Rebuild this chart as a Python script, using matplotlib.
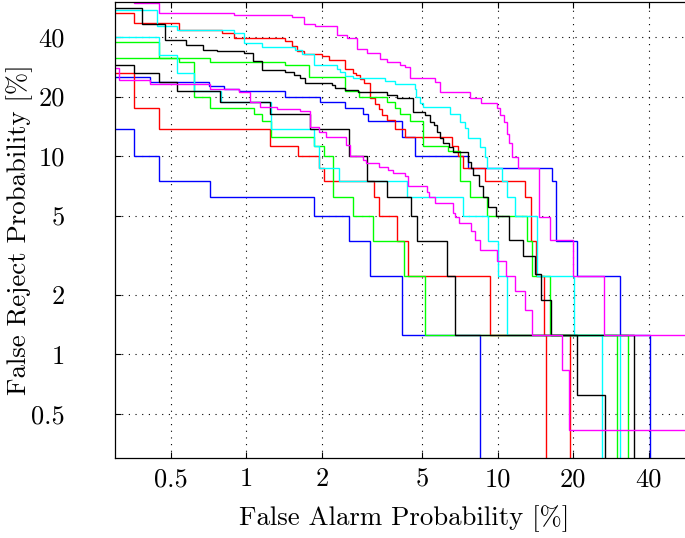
import numpy as np
import matplotlib
matplotlib.use("Agg")
import matplotlib.pyplot as plt
from matplotlib.ticker import FixedLocator, FixedFormatter, NullLocator

plt.rcParams['font.family'] = 'serif'
plt.rcParams['font.serif'] = ['cmr10']
plt.rcParams['mathtext.fontset'] = 'cm'
plt.rcParams['axes.formatter.use_mathtext'] = True

# ---- axis ticks ----
tick_values = [0.5, 1, 2, 5, 10, 20, 40]
tick_labels = ['0.5', '1', '2', '5', '10', '20', '40']

# ---- DET curves: (false alarm % where the step occurs, false reject % after the step) ----
blue_a_fa = [0.2, 0.356, 0.448, 0.715, 1.864, 2.574, 3.111, 4.18, 8.49]
blue_a_fr = [13.75, 10.0, 7.5, 6.25, 5.0, 3.75, 2.5, 1.25, 0]

blue_b_fa = [0.2, 0.415, 0.708, 0.812, 0.932, 1.42, 1.97, 2.478, 2.925, 3.04, 4.158, 4.694,
             7.633, 16.42, 17.1, 20.8, 30.65, 40.3]
blue_b_fr = [25.0, 23.75, 22.5, 21.875, 21.25, 20.0, 18.75, 17.5, 16.25, 15.0, 12.5, 10.0,
             8.75, 7.5, 3.75, 2.5, 1.25, 0]

red_a_fa = [0.2, 0.356, 0.448, 1.246, 1.60, 1.95, 2.045, 3.21, 3.36, 3.99, 4.41, 9.35, 19.47]
red_a_fr = [26.25, 17.5, 13.75, 11.25, 10.0, 8.75, 7.5, 6.25, 5.0, 3.75, 2.5, 1.25, 0]

red_b_fa = [0.2, 0.356, 0.538, 0.800, 0.890, 1.429, 1.519, 1.591, 1.690, 2.0, 2.124, 2.478,
            2.669, 2.734, 2.839, 2.943, 3.111, 3.257, 3.361, 3.462, 3.62, 3.905, 4.3, 6.577,
            6.971, 7.29, 8.95, 12.9, 13.6, 14.27, 15.32, 15.57]
red_b_fr = [52.5, 46.9, 43.1, 41.9, 39.4, 38.1, 36.1, 34.1, 32.8, 31.9, 30.6, 27.5,
            26.25, 25.6, 24.4, 23.4, 19.7, 18.4, 17.4, 16.1, 15.2, 13.75, 12.5, 11.25,
            10.0, 8.75, 7.5, 6.25, 3.75, 2.5, 1.25, 0]

black_a_fa = [0.2, 0.385, 0.476, 0.577, 0.673, 0.764, 0.976, 1.063, 1.155, 1.429,
              1.542, 1.640, 1.716, 2.20, 2.259, 2.478, 2.795, 3.621, 3.968, 4.60,
              5.15, 5.40, 5.562, 5.750, 5.917, 6.093, 6.435, 6.675, 7.633, 7.867,
              8.0, 8.437, 8.757, 9.191, 9.9, 11.07, 12.6, 14.14, 14.83, 16.32,
              20.79, 26.85]
black_a_fr = [55.9, 46.7, 38.6, 36.5, 34.4, 33.8, 33.0, 30.1, 27.3, 26.5,
              25.8, 24.9, 23.4, 22.8, 22.2, 21.5, 21.05, 20.3, 19.7, 16.7,
              16.1, 14.9, 14.3, 13.3, 12.3, 11.6, 11.1, 10.5, 9.37, 8.69,
              8.04, 7.08, 6.21, 5.57, 5.0, 3.79, 3.13, 2.53, 1.875, 1.25,
              0.625, 0]

black_b_fa = [0.2, 0.356, 0.448, 0.530, 0.788, 1.246, 1.797, 2.574, 3.016, 3.621, 4.512,
              4.797, 6.281, 6.770, 34.96]
black_b_fr = [28.75, 26.25, 23.75, 21.25, 18.75, 16.25, 13.75, 10.0, 7.5, 6.25, 5.0,
              3.75, 2.5, 1.25, 0]

cyan_a_fa = [0.2, 0.441, 0.530, 0.890, 0.976, 1.155, 1.566, 1.665, 1.852, 2.294, 2.366,
             2.478, 2.669, 3.566, 3.905, 4.694, 4.75, 4.90, 5.07, 6.474, 7.084, 7.40,
             7.633, 8.49, 8.95, 9.05, 10.42, 10.9, 11.73, 14.3, 20.19, 30.65]
cyan_a_fr = [54.4, 45.5, 43.3, 41.8, 37.1, 35.4, 34.4, 32.8, 28.7, 27.6, 26.5,
             25.5, 24.9, 23.9, 23.2, 21.9, 19.9, 18.5, 17.7, 16.3, 14.9, 13.8,
             12.4, 11.15, 9.93, 8.69, 7.5, 6.26, 5.0, 2.5, 1.25, 0]

cyan_b_fa = [0.2, 0.448, 0.530, 0.617, 0.795, 1.254, 1.864, 1.95, 2.33, 4.35, 7.26, 9.19,
             10.02, 10.9, 26.14]
cyan_b_fr = [40.0, 32.5, 26.25, 21.25, 18.75, 13.75, 11.25, 8.75, 7.5, 6.25, 5.0, 3.75,
             2.5, 1.25, 0]

green_a_fa = [0.2, 0.448, 0.715, 1.429, 1.768, 2.478, 2.821, 3.621, 3.905, 4.095, 4.481,
              5.069, 6.366, 7.084, 7.80, 9.10, 13.14, 13.73, 16.17, 32.94]
green_a_fr = [37.5, 31.25, 30.0, 28.75, 25.0, 21.25, 20.0, 18.75, 17.5, 16.25, 15.0,
              11.25, 10.6, 7.5, 6.25, 5.0, 3.75, 2.5, 1.25, 0]

green_b_fa = [0.2, 0.54, 0.617, 0.715, 1.069, 1.155, 1.254, 1.86, 2.04, 2.21, 2.669,
              3.206, 4.243, 5.152, 29.91]
green_b_fr = [31.25, 30.0, 20.0, 17.5, 16.25, 15.0, 12.5, 11.25, 10.0, 6.25, 5.0,
              3.75, 2.5, 1.25, 0]

magenta_a_fa = [0.2, 0.356, 0.448, 0.890, 1.519, 1.69, 1.88, 2.294, 2.516, 2.751, 3.016,
                3.4, 3.621, 4.095, 4.282, 4.481, 5.659, 5.917, 7.75, 8.6, 9.95, 10.26,
                10.57, 10.9, 11.07, 11.42, 12.09, 14.61, 16.17, 19.96, 26.52, 100]
magenta_a_fr = [65.0, 59.0, 52.7, 51.7, 50.5, 46.4, 45.5, 41.0, 39.5, 34.8, 33.0,
                31.0, 29.8, 28.7, 28.1, 24.9, 23.6, 21.05, 19.7, 18.5, 17.6, 16.1,
                14.9, 13.0, 11.6, 9.93, 8.69, 4.96, 3.76, 2.5, 1.25, 1.25]

magenta_b_fa = [0.2, 0.311, 0.415, 0.719, 0.932, 1.037, 1.137, 1.324, 1.64, 1.797, 1.94,
                2.07, 2.5, 2.59, 2.925, 3.0, 3.36, 3.675, 3.84, 4.28, 4.41, 5.24, 5.35,
                5.66, 6.675, 6.77, 7.03, 7.87, 8.11, 8.49, 9.95, 10.84, 11.73, 12.86,
                13.73, 18.07, 19.17, 100]
magenta_b_fr = [27.9, 24.3, 23.2, 21.9, 21.05, 18.8, 17.8, 17.4, 16.9, 14.1, 13.3,
                12.5, 11.4, 10.0, 9.56, 9.2, 8.85, 8.52, 8.2, 7.94, 7.08, 6.63, 6.26,
                5.8, 5.16, 4.96, 4.6, 4.17, 3.76, 3.35, 2.95, 2.5, 2.08, 1.67,
                1.25, 0.833, 0.417, 0.417]

curves = [
    (blue_a_fa, blue_a_fr, '#0000ff'),
    (blue_b_fa, blue_b_fr, '#0000ff'),
    (red_a_fa, red_a_fr, '#ff0000'),
    (red_b_fa, red_b_fr, '#ff0000'),
    (green_a_fa, green_a_fr, '#00ff00'),
    (green_b_fa, green_b_fr, '#00ff00'),
    (cyan_a_fa, cyan_a_fr, '#00ffff'),
    (cyan_b_fa, cyan_b_fr, '#00ffff'),
    (black_a_fa, black_a_fr, '#000000'),
    (black_b_fa, black_b_fr, '#000000'),
    (magenta_a_fa, magenta_a_fr, '#ff00ff'),
    (magenta_b_fa, magenta_b_fr, '#ff00ff'),
]

W, H = 685, 538
fig = plt.figure(figsize=(W / 100, H / 100), dpi=100)
ax = fig.add_axes([115 / W, 80 / H, 578 / W, 456 / H])
ax.set_xscale('log')
ax.set_yscale('log')

for fa, fr, col in curves:
    ax.plot(fa, np.maximum(np.array(fr, dtype=float), 1e-3), drawstyle='steps-post',
            color=col, lw=1.0, solid_joinstyle='miter')

ax.set_xlim(0.3, 60)
ax.set_ylim(0.3, 60)

for axis in (ax.xaxis, ax.yaxis):
    axis.set_major_locator(FixedLocator(tick_values))
    axis.set_major_formatter(FixedFormatter(tick_labels))
    axis.set_minor_locator(NullLocator())

ax.grid(True, which='major', color='black', linestyle=(0, (1, 5)), linewidth=0.8)
ax.tick_params(direction='in', length=4, width=0.8, top=True, right=True,
               labelsize=19)
ax.tick_params(axis='x', pad=7)
ax.tick_params(axis='y', pad=36)
for sp in ax.spines.values():
    sp.set_linewidth(0.9)

ax.set_xlabel('False Alarm Probability [%]', fontsize=19.3)
ax.set_ylabel('False Reject Probability [%]', fontsize=19.3)
ax.xaxis.set_label_coords(0.5, -0.103)
ax.yaxis.set_label_coords(-0.142, 0.5)

fig.savefig('out.png', dpi=100)
